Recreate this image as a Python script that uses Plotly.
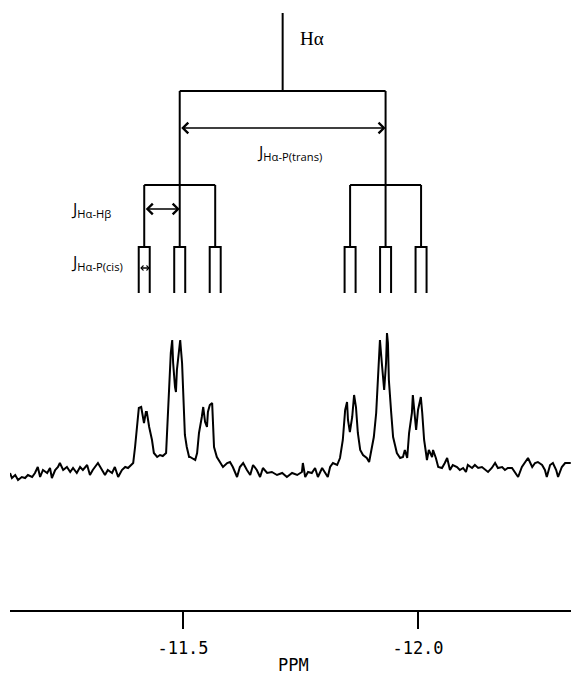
import plotly.graph_objects as go

# ---------------- data ----------------
# 1H NMR spectrum of H-alpha
ppm = [-11.132, -11.136, -11.143, -11.149, -11.157, -11.164, -11.170, -11.179, -11.185, -11.191,
       -11.196, -11.202, -11.211, -11.217, -11.221, -11.228, -11.234, -11.238, -11.245, -11.253,
       -11.260, -11.266, -11.274, -11.281, -11.287, -11.296, -11.302, -11.308, -11.319, -11.328,
       -11.334, -11.340, -11.349, -11.355, -11.362, -11.370, -11.377, -11.383, -11.391, -11.394,
       -11.398, -11.402, -11.406, -11.411, -11.415, -11.417, -11.421, -11.423, -11.428, -11.434,
       -11.438, -11.445, -11.451, -11.457, -11.464, -11.466, -11.470, -11.474, -11.477, -11.479,
       -11.483, -11.485, -11.487, -11.491, -11.494, -11.498, -11.500, -11.504, -11.508, -11.513,
       -11.515, -11.526, -11.530, -11.534, -11.540, -11.543, -11.547, -11.551, -11.553, -11.557,
       -11.562, -11.564, -11.566, -11.572, -11.579, -11.585, -11.594, -11.600, -11.606, -11.615,
       -11.621, -11.628, -11.636, -11.643, -11.649, -11.657, -11.664, -11.670, -11.679, -11.689,
       -11.700, -11.711, -11.721, -11.732, -11.743, -11.753, -11.755, -11.760, -11.766, -11.774,
       -11.781, -11.787, -11.796, -11.802, -11.808, -11.813, -11.819, -11.828, -11.834, -11.840,
       -11.845, -11.849, -11.851, -11.855, -11.860, -11.864, -11.868, -11.872, -11.877, -11.883,
       -11.891, -11.896, -11.902, -11.906, -11.911, -11.915, -11.919, -11.923, -11.926, -11.928,
       -11.932, -11.934, -11.936, -11.938, -11.943, -11.947, -11.951, -11.955, -11.962, -11.968,
       -11.972, -11.977, -11.981, -11.987, -11.989, -11.994, -11.996, -12.000, -12.006, -12.009,
       -12.013, -12.017, -12.019, -12.023, -12.030, -12.032, -12.038, -12.043, -12.051, -12.057,
       -12.062, -12.068, -12.074, -12.083, -12.089, -12.096, -12.102, -12.106, -12.115, -12.121,
       -12.128, -12.136, -12.143, -12.149, -12.157, -12.164, -12.170, -12.179, -12.185, -12.191,
       -12.200, -12.206, -12.213, -12.221, -12.228, -12.234, -12.243, -12.249, -12.255, -12.264,
       -12.270, -12.274, -12.281, -12.287, -12.294, -12.298, -12.306, -12.313, -12.319, -12.325]
intensity = [-1, -6, -3, -8, -5, -6, -3, -5, -1, 5,
             -5, 2, -1, 4, -6, 2, 5, 9, 2, 5,
             0, 4, -1, 5, 2, 7, -3, 2, 9, 2,
             -3, 2, -1, 5, -5, 2, 5, 4, 7, 9,
             25, 49, 64, 65, 52, 49, 60, 60, 45, 32,
             19, 15, 17, 16, 19, 42, 82, 119, 132, 109,
             85, 80, 102, 122, 132, 109, 77, 37, 25, 15,
             15, 12, 19, 39, 55, 65, 50, 45, 60, 67,
             69, 52, 25, 15, 10, 5, 9, 10, 5, -5,
             5, 9, 2, -3, 7, 2, -5, 4, -1, 0,
             -3, -1, -5, -1, -3, 0, 9, -5, 0, -1,
             4, -5, 4, 0, -5, 5, 9, 7, 14, 32,
             62, 70, 52, 40, 55, 77, 65, 39, 22, 17,
             14, 10, 25, 35, 59, 102, 132, 109, 89, 82,
             109, 139, 129, 92, 59, 35, 27, 19, 14, 15,
             22, 14, 39, 59, 77, 55, 42, 62, 75, 59,
             32, 19, 12, 22, 15, 22, 14, 5, 4, 9,
             14, 2, 7, 5, 2, 4, 0, 7, 4, 7,
             4, 5, 2, 0, 4, 9, 4, 5, 2, 4,
             4, 0, -5, 5, 10, 14, 5, 9, 10, 7,
             2, -5, 7, 9, 2, -5, 5, 9, 9, 9]

# splitting tree (coupling constants in ppm)
delta_center = -11.712
J_trans = 0.438
J_hb = 0.0755
J_cis = 0.0234

tick_vals = [-11.5, -12.0]
tick_text = ["-11.5", "-12.0"]

# ---------------- layout constants (diagram heights) ----------------
H_TOP, H_L1, H_L2, H_L3, H_L4 = 459, 381, 287, 225, 179
H_ARROW_T, H_ARROW_HB, H_ARROW_CIS = 344, 263, 204

fig = go.Figure()

fig.add_trace(go.Scatter(x=ppm, y=intensity, mode="lines",
                         line=dict(color="black", width=2), showlegend=False,
                         hoverinfo="skip"))

# build tree
tx, ty = [], []
def seg(xs, ys):
    tx.extend(xs + [None])
    ty.extend(ys + [None])

seg([delta_center, delta_center], [H_TOP, H_L1])
l1 = [delta_center + J_trans / 2, delta_center - J_trans / 2]
seg([l1[0], l1[1]], [H_L1, H_L1])
lines2 = []
for c in l1:
    seg([c, c], [H_L1, H_L2])
    seg([c + J_hb, c - J_hb], [H_L2, H_L2])
    for d in (c + J_hb, c, c - J_hb):
        lines2.append(d)
        seg([d, d], [H_L2, H_L3])
for d in lines2:
    seg([d + J_cis / 2, d + J_cis / 2, d - J_cis / 2, d - J_cis / 2],
        [H_L4, H_L3, H_L3, H_L4])

fig.add_trace(go.Scatter(x=tx, y=ty, mode="lines",
                         line=dict(color="black", width=2), showlegend=False,
                         hoverinfo="skip"))

def darrow(x0, x1, y, size=1.0):
    fig.add_annotation(x=x1, y=y, ax=x0, ay=y, xref="x", yref="y",
                       axref="x", ayref="y", text="", showarrow=True,
                       arrowhead=4, startarrowhead=4, arrowside="end+start",
                       arrowsize=size, startarrowsize=size, arrowwidth=1.6,
                       arrowcolor="black", standoff=0, startstandoff=0)

darrow(l1[0], l1[1], H_ARROW_T, 1.3)
darrow(l1[0] + J_hb, l1[0], H_ARROW_HB, 1.3)
darrow(lines2[0] + J_cis / 2, lines2[0] - J_cis / 2, H_ARROW_CIS, 0.6)

lab_font = dict(family="Open Sans", size=16, color="black")
fig.add_annotation(x=-11.745, y=434, xref="x", yref="y", text="Hα",
                   showarrow=False, xanchor="left",
                   font=dict(family="Liberation Serif", size=19, color="black"))
fig.add_annotation(x=-11.7255, y=320, xref="x", yref="y",
                   text="J<sub>Hα-P(trans)</sub>", showarrow=False,
                   xanchor="center", font=lab_font)
fig.add_annotation(x=-11.351, y=263, xref="x", yref="y",
                   text="J<sub>Hα-Hβ</sub>", showarrow=False,
                   xanchor="right", font=lab_font)
fig.add_annotation(x=-11.377, y=210, xref="x", yref="y",
                   text="J<sub>Hα-P(cis)</sub>", showarrow=False,
                   xanchor="right", font=lab_font)
fig.add_annotation(x=-11.736, y=-0.0902, xref="x", yref="paper",
                   text="PPM", showarrow=False, xanchor="center", yanchor="middle",
                   font=dict(family="DejaVu Sans Mono", size=17, color="black"))

fig.update_layout(
    width=571, height=675,
    margin=dict(l=10, r=0, t=0, b=65),
    paper_bgcolor="white", plot_bgcolor="white",
    showlegend=False,
    xaxis=dict(range=[-11.1319, -12.3255], showline=True, linecolor="black",
               linewidth=2, ticks="outside", ticklen=17, tickwidth=2,
               tickcolor="black", tickvals=tick_vals, ticktext=tick_text,
               tickfont=dict(family="DejaVu Sans Mono", size=17, color="black"),
               showgrid=False, zeroline=False, ticklabelstandoff=5),
    yaxis=dict(range=[-138, 472], visible=False, showgrid=False, zeroline=False),
)

fig.write_html("out.html")
